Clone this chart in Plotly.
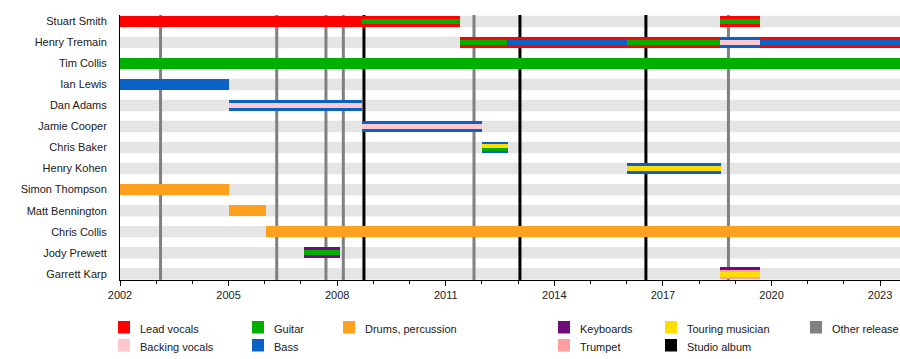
import plotly.graph_objects as go

# ---------------- data ----------------
members = ["Stuart Smith", "Henry Tremain", "Tim Collis", "Ian Lewis", "Dan Adams",
           "Jamie Cooper", "Chris Baker", "Henry Kohen", "Simon Thompson",
           "Matt Bennington", "Chris Collis", "Jody Prewett", "Garrett Karp"]

START = 2002.0
END = 2023.55

# (member, start, end, [(role, band), ...])
stints = [
    ("Stuart Smith", 2002.0, 2008.68, [("vocals", "full")]),
    ("Stuart Smith", 2008.68, 2011.38, [("vocals", "full"), ("guitar", "thin")]),
    ("Stuart Smith", 2018.58, 2019.69, [("vocals", "full"), ("guitar", "thin")]),
    ("Henry Tremain", 2011.38, 2012.0, [("vocals", "full"), ("guitar", "thin")]),
    ("Henry Tremain", 2012.0, 2012.69, [("vocals", "full"), ("bass", "mid"), ("guitar", "thin")]),
    ("Henry Tremain", 2012.69, 2016.0, [("vocals", "full"), ("bass", "thin")]),
    ("Henry Tremain", 2016.0, 2018.58, [("vocals", "full"), ("bass", "mid"), ("guitar", "thin")]),
    ("Henry Tremain", 2018.58, 2019.69, [("bass", "full"), ("backing", "thin")]),
    ("Henry Tremain", 2019.69, END, [("vocals", "full"), ("bass", "thin")]),
    ("Tim Collis", 2002.0, END, [("guitar", "full")]),
    ("Ian Lewis", 2002.0, 2005.01, [("bass", "full")]),
    ("Dan Adams", 2005.01, 2008.68, [("bass", "full"), ("backing", "thin")]),
    ("Jamie Cooper", 2008.68, 2012.0, [("bass", "full"), ("backing", "thin")]),
    ("Chris Baker", 2012.0, 2012.72, [("bass", "full"), ("touring", "hi"), ("guitar", "lo")]),
    ("Henry Kohen", 2016.0, 2018.6, [("bass", "full"), ("touring", "thin")]),
    ("Simon Thompson", 2002.0, 2005.02, [("drums", "full")]),
    ("Matt Bennington", 2005.02, 2006.03, [("drums", "full")]),
    ("Chris Collis", 2006.03, END, [("drums", "full")]),
    ("Jody Prewett", 2007.08, 2008.09, [("keyboards", "full"), ("guitar", "thin")]),
    ("Garrett Karp", 2018.58, 2019.69, [("trumpet", "full"), ("touring", "lowmid"), ("keyboards", "top")]),
]

studio_albums = [2008.74, 2013.05, 2016.53]
other_releases = [2003.12, 2006.33, 2007.69, 2008.17, 2011.78, 2018.81]

tick_years = list(range(2002, 2024, 3))

# ---------------- styles ----------------
role_colors = {
    "vocals": "#FF0000",
    "backing": "#FFC8D0",
    "guitar": "#00B000",
    "bass": "#0A62C6",
    "drums": "#FFA11F",
    "keyboards": "#6E0C7C",
    "trumpet": "#FFA0A0",
    "touring": "#FFDD00",
}
ROW_PX = 21.02
# band: (center offset px, thickness px)
bands = {
    "full": (0.0, 11.5),
    "mid": (0.0, 7.0),
    "thin": (0.0, 4.5),
    "lowmid": (1.0, 5.5),
    "hi": (-1.7, 3.4),
    "lo": (1.7, 3.4),
    "top": (-4.9, 1.8),
}
band_order = ["full", "mid", "thin", "lowmid", "hi", "lo", "top"]

row_of = {m: i for i, m in enumerate(members)}
Y_TOP, Y_BOT = -0.31, 12.3

fig = go.Figure()

for band in band_order:
    off, th = bands[band]
    for role, col in role_colors.items():
        ys, bases, lens = [], [], []
        for m, s, e, rl in stints:
            for r, b in rl:
                if r == role and b == band:
                    ys.append(row_of[m] + off / ROW_PX)
                    bases.append(s)
                    lens.append(e - s)
        if ys:
            fig.add_trace(go.Bar(
                orientation="h", y=ys, x=lens, base=bases,
                width=th / ROW_PX, marker=dict(color=col, line=dict(width=0)),
                showlegend=False, hoverinfo="skip"))

shapes = []
# background stripes
half = bands["full"][1] / ROW_PX / 2
for i, m in enumerate(members):
    shapes.append(dict(type="rect", xref="x", yref="y", x0=START, x1=END,
                       y0=i - half, y1=i + half, fillcolor="#E5E5E5",
                       line=dict(width=0), layer="below"))
for v in other_releases:
    shapes.append(dict(type="line", xref="x", yref="y", x0=v, x1=v, y0=Y_TOP, y1=Y_BOT,
                       line=dict(color="#808080", width=3), layer="below"))
for v in studio_albums:
    shapes.append(dict(type="line", xref="x", yref="y", x0=v, x1=v, y0=Y_TOP, y1=Y_BOT,
                       line=dict(color="#000000", width=3), layer="below"))

# ---------------- legend (manual) ----------------
L, T, PW, PH = 120, 15, 780, 265
def px2paper(px, py):
    return (px - L) / PW, (T + PH - py) / PH

legend_items = [
    ("Lead vocals", "#FF0000", 118, 321),
    ("Backing vocals", "#FFC8D0", 118, 339),
    ("Guitar", "#00B000", 252, 321),
    ("Bass", "#0A62C6", 252, 339),
    ("Drums, percussion", "#FFA11F", 343, 321),
    ("Keyboards", "#6E0C7C", 558, 321),
    ("Trumpet", "#FFA0A0", 558, 339),
    ("Touring musician", "#FFDD00", 665, 321),
    ("Studio album", "#000000", 665, 339),
    ("Other release", "#808080", 810, 321),
]
annotations = []
for name, col, sx, sy in legend_items:
    x0, y0 = px2paper(sx, sy)
    x1, y1 = px2paper(sx + 12, sy + 12.5)
    shapes.append(dict(type="rect", xref="paper", yref="paper", x0=x0, x1=x1,
                       y0=y1, y1=y0, fillcolor=col, line=dict(width=0)))
    tx, ty = px2paper(sx + 20, sy + 7.5)
    annotations.append(dict(xref="paper", yref="paper", x=tx, y=ty, text=name,
                            showarrow=False, xanchor="left", yanchor="middle",
                            font=dict(size=11, color="#202020")))

fig.update_layout(
    width=900, height=359,
    margin=dict(l=120, r=0, t=15, b=79),
    plot_bgcolor="white", paper_bgcolor="white",
    barmode="overlay", bargap=0,
    font=dict(family="Liberation Sans, Arial, sans-serif", size=11, color="#202020"),
    shapes=shapes, annotations=annotations,
    showlegend=False,
)
fig.update_xaxes(
    range=[START, END], tickvals=tick_years, ticktext=[str(t) for t in tick_years],
    ticks="outside", ticklen=5, tickcolor="black", tickwidth=1,
    minor=dict(dtick=1, tick0=2002, ticks="outside", ticklen=3, tickcolor="black", showgrid=False),
    showline=True, linecolor="black", linewidth=1, showgrid=False, zeroline=False,
    fixedrange=True,
)
fig.update_yaxes(
    range=[Y_BOT, Y_TOP], tickvals=list(range(len(members))), ticktext=members,
    ticks="", ticklabelstandoff=10,
    showline=True, linecolor="black", linewidth=1, showgrid=False, zeroline=False,
    fixedrange=True,
)

fig.write_html("out.html", config={"displayModeBar": False},
               post_script="document.body.style.margin='0';document.body.style.padding='0';")
